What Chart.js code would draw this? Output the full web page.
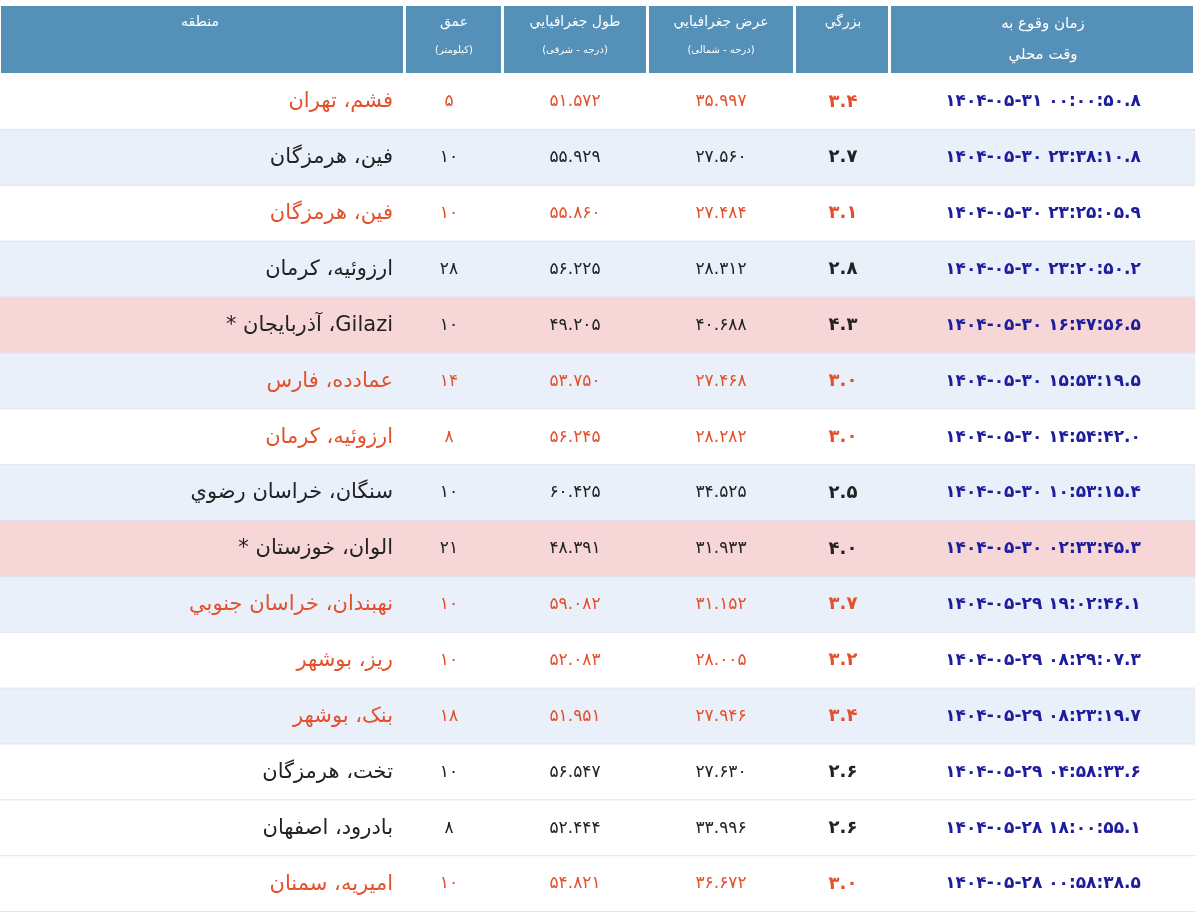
<!DOCTYPE html>
<html><head><meta charset="utf-8">
<script src="https://cdn.jsdelivr.net/npm/chart.js@4.4.0/dist/chart.umd.min.js"></script>
<style>html,body{margin:0;background:#fff}#wrap{width:1200px;height:918px}</style>
</head><body><div id="wrap"><canvas id="chart-canvas"></canvas></div>
<script>
// table data, one entry per row (top to bottom)
const times = ['1404-05-31 00:00:50.8','1404-05-30 23:38:10.8','1404-05-30 23:25:05.9','1404-05-30 23:20:50.2',
  '1404-05-30 16:47:56.5','1404-05-30 15:53:19.5','1404-05-30 14:54:42.0','1404-05-30 10:53:15.4',
  '1404-05-30 02:33:45.3','1404-05-29 19:02:46.1','1404-05-29 08:29:07.3','1404-05-29 08:23:19.7',
  '1404-05-29 04:58:33.6','1404-05-28 18:00:55.1','1404-05-28 00:58:38.5'];
const magnitudes = [3.4,2.7,3.1,2.8,4.3,3.0,3.0,2.5,4.0,3.7,3.2,3.4,2.6,2.6,3.0];
const latitudes = [35.997,27.560,27.484,28.312,40.688,27.468,28.282,34.525,31.933,31.152,28.005,27.946,27.630,33.996,36.672];
const longitudes = [51.572,55.929,55.860,56.225,49.205,53.750,56.245,60.425,48.391,59.082,52.083,51.951,56.547,52.444,54.821];
const depths = [5,10,10,28,10,14,8,10,21,10,10,18,10,8,10];
const regions = ['فشم، تهران','فین، هرمزگان','فین، هرمزگان','ارزوئیه، کرمان','Gilazi، آذربایجان *','عمادده، فارس',
  'ارزوئیه، کرمان','سنگان، خراسان رضوي','الوان، خوزستان *','نهبندان، خراسان جنوبي','ریز، بوشهر','بنک، بوشهر',
  'تخت، هرمزگان','بادرود، اصفهان','امیریه، سمنان'];
const highlight = [1,0,1,0,0,1,1,0,0,1,1,1,0,0,1]; // red text rows
const rowKind = ['w','b','w','b','p','b','w','b','p','b','w','b','w','w','w'];

const fa = s => String(s).replace(/[0-9]/g, d => '۰۱۲۳۴۵۶۷۸۹'[d]);
const bg = {w:'#ffffff', b:'#eaf0fa', p:'#f6d6d6'};
const RED = '#e4502b', BLUE = '#1c1c9c', HEAD = '#5590b8';
const FONT = '"DejaVu Sans", sans-serif';
const edges = [0, 405, 503, 648, 795, 890, 1195];

const tablePlugin = {
  id: 'table',
  beforeDraw(chart) {
    const c = chart.ctx;
    c.save();
    c.fillStyle = '#fff';
    c.fillRect(0, 0, chart.width, chart.height);
    // header cells
    c.fillStyle = HEAD;
    for (let i = 0; i < 6; i++) c.fillRect(edges[i] + 1, 6, edges[i + 1] - edges[i] - 3, 67);
    c.restore();
  },
  afterDatasetsDraw(chart) {
    const c = chart.ctx, y = chart.scales.y;
    c.save();
    c.textBaseline = 'middle';
    c.textAlign = 'center';
    c.fillStyle = '#fff';
    c.direction = 'rtl';
    c.font = '14px ' + FONT;
    c.fillText('منطقه', 200, 22);
    c.fillText('عمق', 454, 22);
    c.fillText('طول جغرافيايي', 575, 22);
    c.fillText('عرض جغرافيايي', 721, 22);
    c.fillText('بزرگي', 843, 22);
    c.font = '15px ' + FONT;
    c.fillText('زمان وقوع به', 1043, 24);
    c.fillText('وقت محلي', 1043, 55);
    c.font = '10px ' + FONT;
    c.fillText('(کیلومتر)', 454, 50);
    c.fillText('(درجه - شرقی)', 575, 50);
    c.fillText('(درجه - شمالی)', 721, 50);

    regions.forEach((r, i) => {
      const py = y.getPixelForValue(i);
      const col = highlight[i] ? RED : '#222';
      // separator
      c.fillStyle = '#dfe3ea';
      c.fillRect(0, py + 27, 1195, 1);
      c.fillStyle = col;
      c.direction = 'rtl';
      c.textAlign = 'right';
      c.font = '21px ' + FONT;
      c.fillText(r, 393, py);
      c.direction = 'ltr';
      c.textAlign = 'center';
      c.font = '17px ' + FONT;
      c.fillText(fa(depths[i]), 449, py);
      c.fillText(fa(longitudes[i].toFixed(3)), 575, py);
      c.fillText(fa(latitudes[i].toFixed(3)), 721, py);
      c.font = 'bold 18px ' + FONT;
      c.fillText(fa(magnitudes[i].toFixed(1)), 843, py);
      c.fillStyle = BLUE;
      c.font = 'bold 17px ' + FONT;
      c.fillText(fa(times[i]), 1043, py);
    });
    // column lines between body cells
    c.fillStyle = '#ffffff';
    c.restore();
  }
};

new Chart(document.getElementById('chart-canvas').getContext('2d'), {
  type: 'bar',
  data: {
    labels: regions.map((_, i) => i),
    datasets: [{
      data: regions.map(() => [0, 1195]),
      backgroundColor: rowKind.map(k => bg[k]),
      borderWidth: 0,
      barPercentage: 1,
      categoryPercentage: 1
    }]
  },
  options: {
    indexAxis: 'y',
    responsive: true,
    maintainAspectRatio: false,
    animation: false,
    layout: {padding: {top: 74, bottom: 6, left: 0, right: 0}},
    plugins: {legend: {display: false}, tooltip: {enabled: false}},
    scales: {
      x: {type: 'linear', min: 0, max: 1200, display: false},
      y: {display: false}
    }
  },
  plugins: [tablePlugin]
});
</script></body></html>
